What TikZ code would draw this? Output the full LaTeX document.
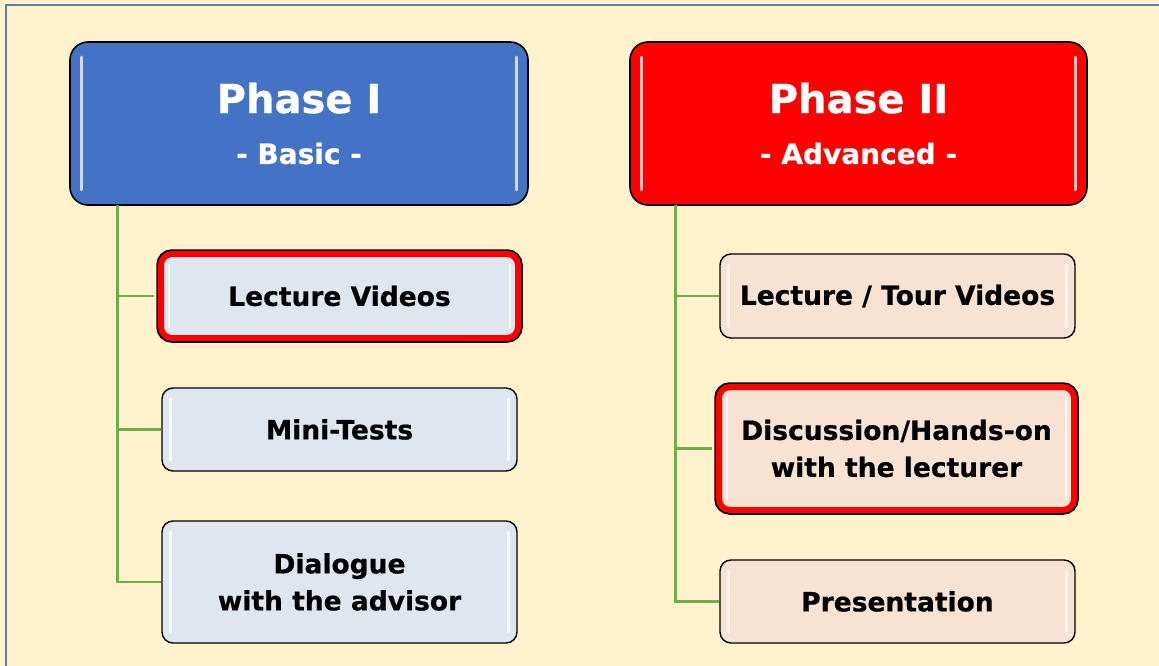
\documentclass[tikz,border=0pt]{standalone}
\usepackage{fontspec}
\setmainfont{DejaVu Sans}[BoldFeatures={FakeBold=0.6}]
\begin{document}
\begin{tikzpicture}[x=1pt,y=-1pt,
  phase/.style={rounded corners=18pt, draw=black, line width=1.6pt, minimum width=#1, minimum height=163pt, text=white, align=center, inner sep=0pt},
  item/.style={rounded corners=11pt, draw=black, line width=1.4pt, align=center, inner sep=0pt, font=\fontsize{26.5}{37}\selectfont\bfseries},
  hot/.style={draw=red, line width=6pt, preaction={draw=black, line width=9.5pt}},
  conn/.style={draw=linegreen, line width=2.6pt},
  hl/.style={draw=white, line width=3pt, line cap=round, opacity=0.75},
]
\definecolor{bg}{HTML}{FFF2CC}
\definecolor{frame}{HTML}{5A7FA8}
\definecolor{pblue}{HTML}{4472C4}
\definecolor{lblue}{HTML}{DEE7F0}
\definecolor{peach}{HTML}{F8E3D3}
\definecolor{linegreen}{HTML}{70AD47}
\useasboundingbox (0,0) rectangle (1159,666);
\fill[bg] (0,0) rectangle (1159,666);
\draw[frame, line width=2.2pt] (6,5) rectangle (1170,680);

% phase boxes
\node[phase=458pt, fill=pblue] (p1) at (299,123.5)
  {{\fontsize{40}{44}\selectfont\bfseries Phase I}\\[28pt]{\fontsize{28}{30}\selectfont\bfseries - Basic -}};
\node[phase=457pt, fill=red] (p2) at (858.5,123.5)
  {{\fontsize{40}{44}\selectfont\bfseries Phase II}\\[28pt]{\fontsize{28}{30}\selectfont\bfseries - Advanced -}};
\draw[hl] ([xshift=12pt,yshift=-16pt]p1.north west) -- ([xshift=12pt,yshift=16pt]p1.south west);
\draw[hl] ([xshift=-12pt,yshift=-16pt]p1.north east) -- ([xshift=-12pt,yshift=16pt]p1.south east);
\draw[hl] ([xshift=12pt,yshift=-16pt]p2.north west) -- ([xshift=12pt,yshift=16pt]p2.south west);
\draw[hl] ([xshift=-12pt,yshift=-16pt]p2.north east) -- ([xshift=-12pt,yshift=16pt]p2.south east);

% left items
\node[item, hot, fill=lblue, minimum width=357pt, minimum height=84pt] (lv) at (339.5,296) {Lecture Videos};
\node[item, fill=lblue, minimum width=355pt, minimum height=83pt] (mt) at (339.5,429.5) {Mini-Tests};
\node[item, fill=lblue, minimum width=355pt, minimum height=122pt] (dl) at (339.5,582) {Dialogue\\with the advisor};

% right items
\node[item, fill=peach, minimum width=355pt, minimum height=84pt] (lt) at (897.5,296) {Lecture / Tour Videos};
\node[item, hot, fill=peach, minimum width=355pt, minimum height=123pt] (dh) at (896.5,448.5) {Discussion/Hands-on\\with the lecturer};
\node[item, fill=peach, minimum width=355pt, minimum height=83pt] (pr) at (897.5,601.5) {Presentation};

% item highlights
\foreach \n in {mt,dl,lt,pr}{
  \draw[hl, line width=3.5pt] ([xshift=9pt,yshift=-12pt]\n.north west) -- ([xshift=9pt,yshift=12pt]\n.south west);
  \draw[hl, line width=3.5pt] ([xshift=-9pt,yshift=-12pt]\n.north east) -- ([xshift=-9pt,yshift=12pt]\n.south east);
}
\foreach \n in {lv,dh}{
  \draw[hl, line width=2.5pt] ([xshift=11pt,yshift=-14pt]\n.north west) -- ([xshift=11pt,yshift=14pt]\n.south west);
  \draw[hl, line width=2.5pt] ([xshift=-11pt,yshift=-14pt]\n.north east) -- ([xshift=-11pt,yshift=14pt]\n.south east);
}

% connectors
\coordinate (t1) at ([xshift=48pt,yshift=0.8pt]p1.south west);
\coordinate (t2) at ([xshift=46pt,yshift=0.8pt]p2.south west);
\draw[conn] (t1) |- (dl.west);
\draw[conn] (t1 |- lv.west) -- ([xshift=-4.5pt]lv.west);
\draw[conn] (t1 |- mt.west) -- (mt.west);
\draw[conn] (t2) |- (pr.west);
\draw[conn] (t2 |- lt.west) -- (lt.west);
\draw[conn] (t2 |- dh.west) -- ([xshift=-4.5pt]dh.west);
\end{tikzpicture}
\end{document}
